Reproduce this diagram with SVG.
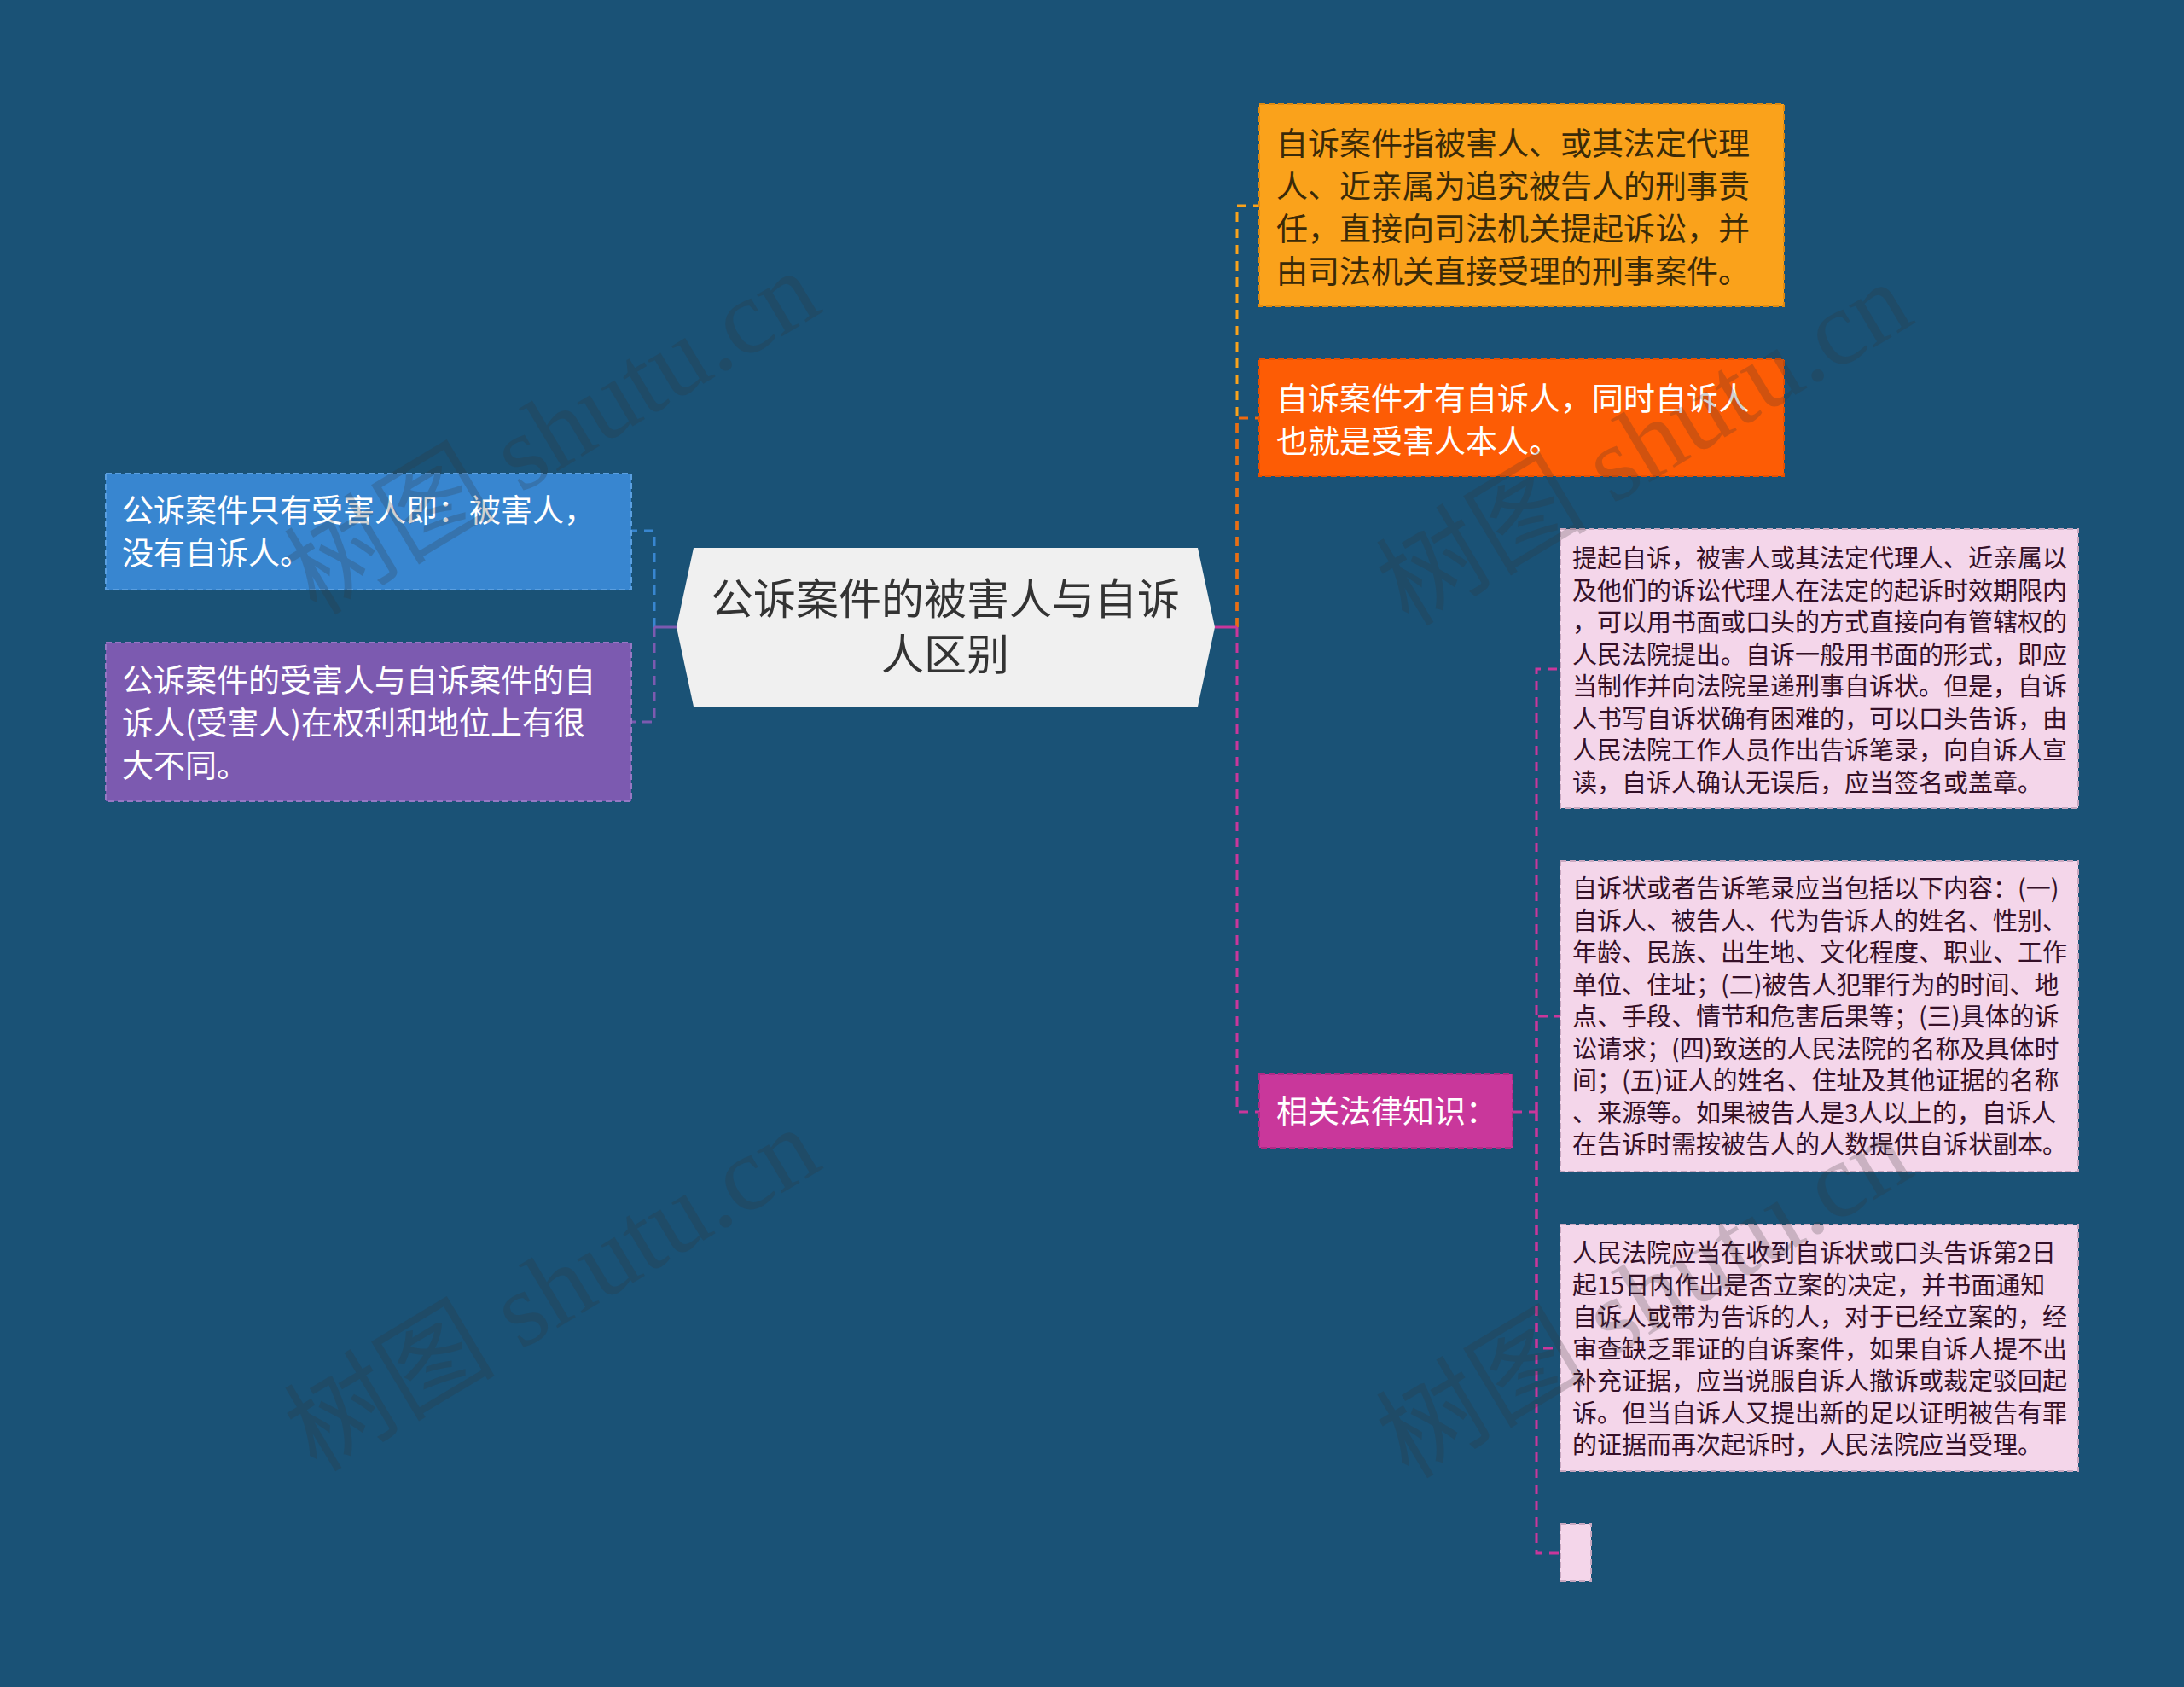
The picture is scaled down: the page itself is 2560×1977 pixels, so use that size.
<svg xmlns="http://www.w3.org/2000/svg" width="2560" height="1977" viewBox="0 0 2560 1977">
<style>
.t{font-family:"Noto Sans CJK SC","Liberation Sans",sans-serif}
.c1{font-size:50px;fill:#333333}
.l1{font-size:37px}
.lf{font-size:29px;fill:#351028}
.wm{font-family:"Liberation Serif","Noto Sans CJK SC",serif;font-size:124px;fill:#333333;opacity:0.22}
.bd{stroke-width:2;stroke-dasharray:7 4}
.cn{fill:none;stroke-width:3;stroke-dasharray:11 8}
</style>
<rect x="0" y="0" width="2560" height="1977" fill="#1a5276"/>
<g id="connectors">
  <path class="cn" stroke="#3886d0" d="M767,735 V622 H740"/>
  <path class="cn" stroke="#7c5ab0" d="M767,735 V846 H740"/>
  <path d="M767,735 H793" stroke="#7c5ab0" stroke-width="3"/>
  <path class="cn" stroke="#faa21b" d="M1450,735 V241 H1476"/>
  <path class="cn" stroke="#f06a10" d="M1450,735 V490 H1476"/>
  <path class="cn" stroke="#c9379b" d="M1450,735 V1303 H1476"/>
  <path d="M1424,735 H1450" stroke="#c9379b" stroke-width="3"/>
  <path class="cn" stroke="#c9379b" d="M1801,1303 V784 H1829"/>
  <path class="cn" stroke="#c9379b" d="M1801,1303 V1191 H1829"/>
  <path class="cn" stroke="#c9379b" d="M1801,1303 V1580 H1829"/>
  <path class="cn" stroke="#c9379b" d="M1801,1303 V1820 H1829"/>
  <path class="cn" stroke="#c9379b" d="M1773,1303 H1801"/>
</g>
<g id="center">
  <polygon points="813,642 1404,642 1424,735 1404,828 813,828 793,735" fill="#f0f0f0"/>
  <text class="t c1" text-anchor="middle"><tspan x="1108" y="720">公诉案件的被害人与自诉</tspan><tspan x="1108" y="785">人区别</tspan></text>
</g>
<g id="left1">
  <rect class="bd" x="124" y="555" width="616" height="136" fill="#3886d0" stroke="#5a9fe0"/>
  <text class="t l1" fill="#ffffff"><tspan x="143" y="612">公诉案件只有受害人即：被害人，</tspan><tspan x="143" y="662">没有自诉人。</tspan></text>
</g>
<g id="left2">
  <rect class="bd" x="124" y="753" width="616" height="186" fill="#7c5ab0" stroke="#9678c4"/>
  <text class="t l1" fill="#ffffff"><tspan x="143" y="811">公诉案件的受害人与自诉案件的自</tspan><tspan x="143" y="861">诉人(受害人)在权利和地位上有很</tspan><tspan x="143" y="911">大不同。</tspan></text>
</g>
<g id="right1">
  <rect class="bd" x="1476" y="122" width="615" height="237" fill="#faa21b" stroke="#e08a10"/>
  <text class="t l1" fill="#3a2a08"><tspan x="1496" y="182">自诉案件指被害人、或其法定代理</tspan><tspan x="1496" y="232">人、近亲属为追究被告人的刑事责</tspan><tspan x="1496" y="282">任，直接向司法机关提起诉讼，并</tspan><tspan x="1496" y="332">由司法机关直接受理的刑事案件。</tspan></text>
</g>
<g id="right2">
  <rect class="bd" x="1476" y="421" width="615" height="137" fill="#fd5c05" stroke="#e85000"/>
  <text class="t l1" fill="#ffffff"><tspan x="1496" y="481">自诉案件才有自诉人，同时自诉人</tspan><tspan x="1496" y="531">也就是受害人本人。</tspan></text>
</g>
<g id="right3">
  <rect class="bd" x="1476" y="1259" width="297" height="86" fill="#c9379b" stroke="#b02a86"/>
  <text class="t l1" fill="#ffffff" x="1496" y="1316">相关法律知识：</text>
</g>
<g id="leaf1">
  <rect class="bd" x="1829" y="620" width="607" height="327" fill="#f4d6ea" stroke="#c9a8c0"/>
  <text class="t lf"><tspan x="1843" y="665">提起自诉，被害人或其法定代理人、近亲属以</tspan><tspan x="1843" y="702.5">及他们的诉讼代理人在法定的起诉时效期限内</tspan><tspan x="1843" y="740">，可以用书面或口头的方式直接向有管辖权的</tspan><tspan x="1843" y="777.5">人民法院提出。自诉一般用书面的形式，即应</tspan><tspan x="1843" y="815">当制作并向法院呈递刑事自诉状。但是，自诉</tspan><tspan x="1843" y="852.5">人书写自诉状确有困难的，可以口头告诉，由</tspan><tspan x="1843" y="890">人民法院工作人员作出告诉笔录，向自诉人宣</tspan><tspan x="1843" y="927.5">读，自诉人确认无误后，应当签名或盖章。</tspan></text>
</g>
<g id="leaf2">
  <rect class="bd" x="1829" y="1009" width="607" height="364" fill="#f4d6ea" stroke="#c9a8c0"/>
  <text class="t lf"><tspan x="1843" y="1052">自诉状或者告诉笔录应当包括以下内容：(一)</tspan><tspan x="1843" y="1089.5">自诉人、被告人、代为告诉人的姓名、性别、</tspan><tspan x="1843" y="1127">年龄、民族、出生地、文化程度、职业、工作</tspan><tspan x="1843" y="1164.5">单位、住址；(二)被告人犯罪行为的时间、地</tspan><tspan x="1843" y="1202">点、手段、情节和危害后果等；(三)具体的诉</tspan><tspan x="1843" y="1239.5">讼请求；(四)致送的人民法院的名称及具体时</tspan><tspan x="1843" y="1277">间；(五)证人的姓名、住址及其他证据的名称</tspan><tspan x="1843" y="1314.5">、来源等。如果被告人是3人以上的，自诉人</tspan><tspan x="1843" y="1352">在告诉时需按被告人的人数提供自诉状副本。</tspan></text>
</g>
<g id="leaf3">
  <rect class="bd" x="1829" y="1435" width="607" height="289" fill="#f4d6ea" stroke="#c9a8c0"/>
  <text class="t lf"><tspan x="1843" y="1479">人民法院应当在收到自诉状或口头告诉第2日</tspan><tspan x="1843" y="1516.5">起15日内作出是否立案的决定，并书面通知</tspan><tspan x="1843" y="1554">自诉人或带为告诉的人，对于已经立案的，经</tspan><tspan x="1843" y="1591.5">审查缺乏罪证的自诉案件，如果自诉人提不出</tspan><tspan x="1843" y="1629">补充证据，应当说服自诉人撤诉或裁定驳回起</tspan><tspan x="1843" y="1666.5">诉。但当自诉人又提出新的足以证明被告有罪</tspan><tspan x="1843" y="1704">的证据而再次起诉时，人民法院应当受理。</tspan></text>
</g>
<g id="leaf4">
  <rect class="bd" x="1829" y="1786" width="36" height="67" fill="#f4d6ea" stroke="#c9a8c0"/>
</g>
<g id="watermarks">
  <text class="wm" transform="translate(669,543) rotate(-31)" text-anchor="middle">树图 shutu.cn</text>
  <text class="wm" transform="translate(1949,556) rotate(-31)" text-anchor="middle">树图 shutu.cn</text>
  <text class="wm" transform="translate(669,1547) rotate(-31)" text-anchor="middle">树图 shutu.cn</text>
  <text class="wm" transform="translate(1949,1555) rotate(-31)" text-anchor="middle">树图 shutu.cn</text>
</g>
</svg>
